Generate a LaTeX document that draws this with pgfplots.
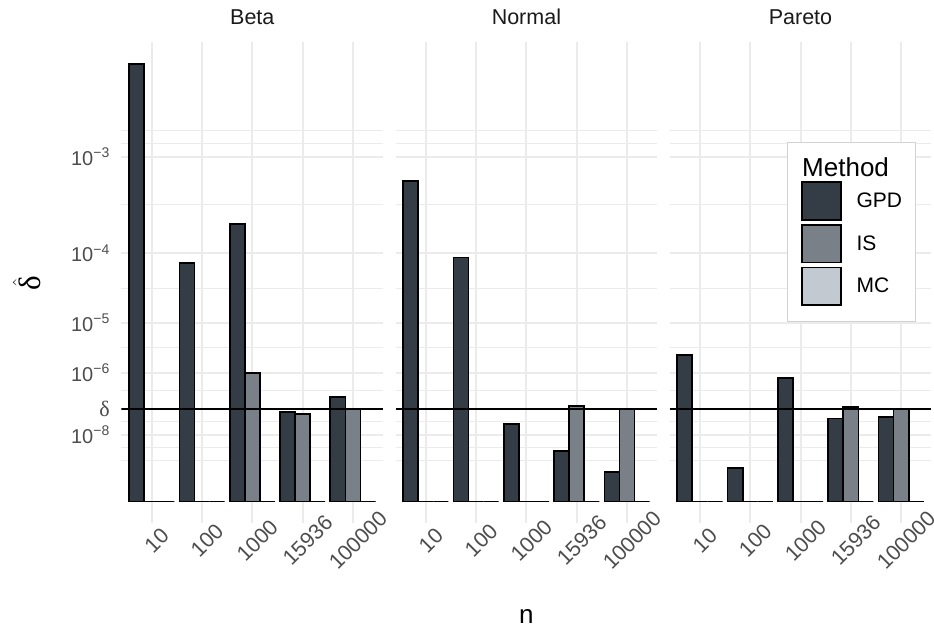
\documentclass[border=0pt]{standalone}
\usepackage{pgfplots}
\pgfplotsset{compat=1.18}
\usepackage{pgfplotstable}
\usepackage{fontspec}
\setmainfont{Liberation Sans}
\newfontfamily\serifd{Liberation Serif}

\definecolor{gpd}{RGB}{52,61,70}
\definecolor{isc}{RGB}{122,128,136}
\definecolor{mcc}{RGB}{194,201,209}
\definecolor{grid92}{RGB}{235,235,235}
\definecolor{gray30}{RGB}{77,77,77}
\definecolor{gray10}{RGB}{26,26,26}
\definecolor{legendgray}{RGB}{210,210,210}

% estimated delta-hat per sample size n (k = 1..5 -> 10, 100, 1000, 15936, 100000)
\pgfplotstableread{
k GPD IS MC
1 5.3e-3 0 0
2 7.5e-5 0 0
3 2.2e-4 1.0e-6 0
4 7.8e-8 6.8e-8 0
5 2.3e-7 1.0e-7 0
}\betadata
\pgfplotstableread{
k GPD IS MC
1 6.0e-4 0 0
2 8.9e-5 0 0
3 2.9e-8 0 0
4 1.5e-9 1.25e-7 0
5 3.4e-11 1.0e-7 0
}\normaldata
\pgfplotstableread{
k GPD IS MC
1 2.5e-6 0 0
2 7.7e-11 0 0
3 7.6e-7 0 0
4 4.7e-8 1.14e-7 0
5 5.4e-8 1.0e-7 0
}\paretodata
% true value delta
\pgfplotstableread{
x v
0.4 1e-7
5.6 1e-7
}\deltaline

% y axis is linear in t = value^(1/7); ticks are given in t
\pgfplotsset{
  facet/.style={
    scale only axis, width=261.6pt, height=481.3pt, anchor=south west,
    xmin=0.4, xmax=5.6, ymin=-0.02365, ymax=0.4966,
    axis line style={draw=none}, major tick length=0pt, minor tick length=0pt,
    xtick={1,2,3,4,5}, xticklabels={10,100,1000,15936,100000},
    ytick={0.071969,0.1,0.138950,0.193070,0.268270,0.372759},
    minor ytick={0.043938,0.057954,0.085985,0.119475,0.16601,0.23067,0.320515,0.386775,0.40079},
    xmajorgrids, ymajorgrids, yminorgrids,
    major grid style={draw=grid92, line width=2pt},
    minor grid style={draw=grid92, line width=1pt},
    tick label style={font=\fontsize{20}{24}\selectfont, text=gray30},
    xticklabel style={inner sep=0pt, xshift=5pt, yshift=-17pt, rotate=45, anchor=center,
      font=\fontsize{21.5}{25}\selectfont},
    yticklabel style={inner sep=0pt, anchor=east, xshift=-11.5pt},
    title style={at={(0.5,1)}, anchor=base, yshift=12pt, inner sep=0pt,
      font=\fontsize{21.5}{26}\selectfont, text=gray10},
  },
  bars/.style={ybar, bar width=15.09pt, draw=black, line width=1.7pt, forget plot},
  deltastyle/.style={black, line width=1.5pt, forget plot},
}

\newcommand{\panel}[1]{%
  \addplot[bars, fill=gpd, bar shift=-15.09pt] table[x=k, y expr={\thisrow{GPD}^(1/7)}] {#1};
  \addplot[bars, fill=isc, bar shift=0pt] table[x=k, y expr={\thisrow{IS}^(1/7)}] {#1};
  \addplot[bars, fill=mcc, bar shift=15.09pt] table[x=k, y expr={\thisrow{MC}^(1/7)}] {#1};
  \addplot[deltastyle] table[x=x, y expr={\thisrow{v}^(1/7)}] {\deltaline};
}

\begin{document}
\begin{tikzpicture}
\path[use as bounding box] (0,0) rectangle (934pt,628pt);

\begin{axis}[facet, at={(121.5pt,104.6pt)}, title={Beta},
  yticklabels={10\textsuperscript{−8},{\serifd\fontsize{22}{26}\selectfont δ},10\textsuperscript{−6},10\textsuperscript{−5},10\textsuperscript{−4},10\textsuperscript{−3}},
  ylabel={$\hat{\hbox{\serifd δ}}$},
  ylabel style={at={(axis description cs:-0.3612,0.5)}, anchor=center, font=\fontsize{31}{36}\selectfont, text=black}]
\panel{\betadata}
\end{axis}

\begin{axis}[facet, at={(395.6pt,104.6pt)}, title={Normal},
  yticklabels={,,,,,},
  xlabel={n},
  xlabel style={at={(axis description cs:0.5,0)}, anchor=center, yshift=-93pt, inner sep=0pt, font=\fontsize{26}{31}\selectfont, text=black}]
\panel{\normaldata}
\end{axis}

\begin{axis}[facet, at={(669.7pt,104.6pt)}, title={Pareto},
  yticklabels={,,,,,},
  legend image code/.code={\draw[#1, draw=black, line width=1.7pt] (0pt,-18.9pt) rectangle (38.9pt,18.9pt);},
  legend cell align=left,
  legend style={at={(0.4484,0.7924)}, anchor=north west, draw=legendgray, line width=0.8pt, fill=white,
    inner xsep=13.5pt, inner ysep=15pt, row sep=3.3pt, column sep=15pt,
    nodes={inner sep=0pt, font=\fontsize{21}{25}\selectfont, text=black}}]
\panel{\paretodata}
\addlegendimage{empty legend}
\addlegendentry{\hspace{-54.3pt}\fontsize{26}{31}\selectfont Method\rule[-14.3pt]{0pt}{14.3pt}}
\addlegendimage{fill=gpd}
\addlegendentry{GPD}
\addlegendimage{fill=isc}
\addlegendentry{IS}
\addlegendimage{fill=mcc}
\addlegendentry{MC}
\end{axis}
\end{tikzpicture}
\end{document}
